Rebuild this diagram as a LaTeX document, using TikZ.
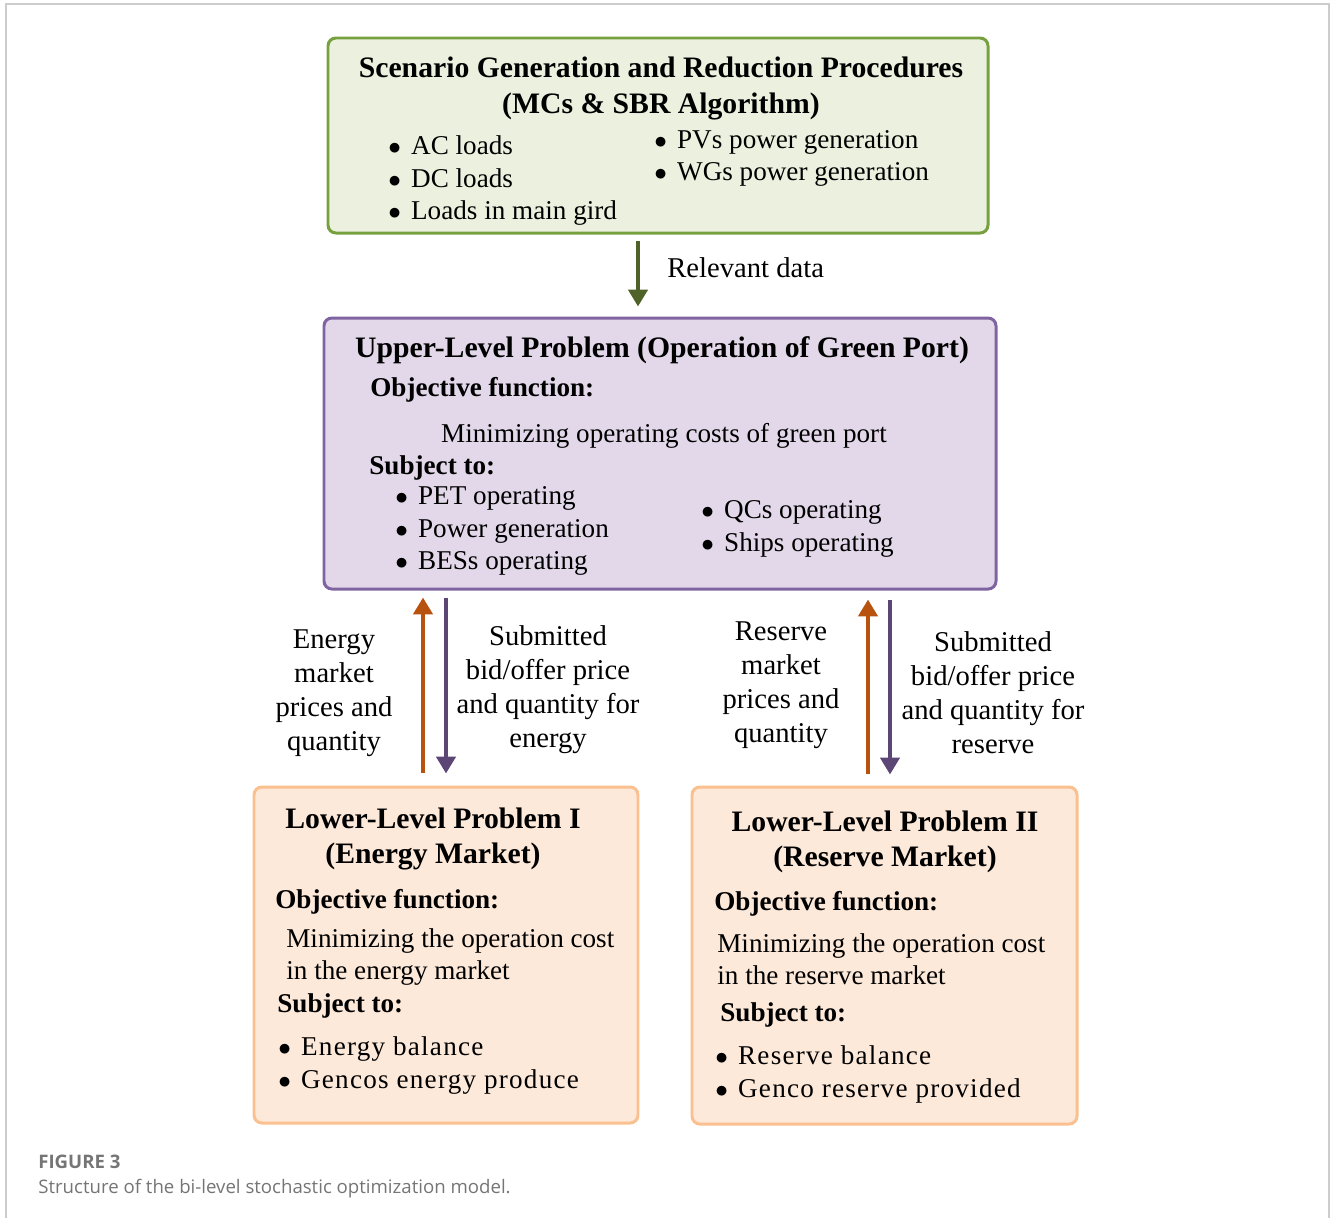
\documentclass[tikz,border=0pt]{standalone}
\usepackage{fontspec}
\setmainfont{Liberation Serif}
\newfontfamily\capfont{Open Sans}
\usetikzlibrary{positioning,arrows.meta,fit}
\definecolor{scenLine}{HTML}{77A03F}
\definecolor{scenFill}{HTML}{EBF1DE}
\definecolor{upLine}{HTML}{8064A2}
\definecolor{upFill}{HTML}{E2D8E9}
\definecolor{lowLine}{HTML}{FAC090}
\definecolor{lowFill}{HTML}{FDE9D9}
\definecolor{dataArrow}{HTML}{4F6228}
\definecolor{priceArrow}{HTML}{B8530F}
\definecolor{bidArrow}{HTML}{5B4675}
\definecolor{capGray}{HTML}{757575}
\newcommand{\bul}{\makebox[0.84em][l]{$\bullet$}}
\newcommand{\spaced}{\addfontfeature{LetterSpace=4.5}}

\begin{document}
\begin{tikzpicture}[x=0.02cm, y=-0.02cm,
    txt/.style={font=\fontsize{15.45}{18.6}\selectfont, inner sep=0pt, yshift=-0.08cm},
    head/.style={inner sep=0pt, align=center, yshift=-0.08cm, font=\fontsize{16.9}{20}\selectfont\bfseries},
    sub/.style={inner sep=0pt, anchor=mid west, yshift=-0.08cm, font=\fontsize{15.45}{18.6}\selectfont\bfseries},
    item/.style={txt, anchor=mid west},
    lbl/.style={txt, align=center, font=\fontsize{16.3}{19.3}\selectfont},
    box/.style={draw, rounded corners=4.5pt, line width=1.7pt, inner sep=0pt},
    scenbox/.style={box, draw=scenLine, fill=scenFill},
    upbox/.style={box, draw=upLine, fill=upFill},
    lowbox/.style={box, draw=lowLine, fill=lowFill},
    arr/.style={line width=2.4pt, -{Triangle[length=9.6pt,width=10.8pt]}}]
  \useasboundingbox (0,0) rectangle (1330,1218);
  \draw[gray!40, line width=0.7pt] (6,1218) |- (1329,4) -- (1329,1218);

  % scenario box
  \node[scenbox, fit={(328,38) (988,233)}] (scen) {};
  \node[head] (scenT) at (661,84.5) {Scenario Generation and Reduction Procedures\\(MCs \& SBR Algorithm)};
  \node[item] (ac) at (388,146) {\bul AC loads};
  \node[item] (dc) at (388,179) {\bul DC loads};
  \node[item] (mg) at (388,211) {\bul Loads in main gird};
  \node[item] (pv) at (654,140) {\bul PVs power generation};
  \node[item] (wg) at (654,172) {\bul WGs power generation};

  % upper level
  \node[upbox, fit={(324,318) (996,589)}] (upper) {};
  \node[head] (upT) at (662,346) {Upper-Level Problem (Operation of Green Port)};
  \node[sub] (upObj) at (370,388) {Objective function:};
  \node[txt] (upMin) at (664,432) {Minimizing operating costs of green port};
  \node[sub] (upSub) at (369,466) {Subject to:};
  \node[item] (pet) at (395,496) {\bul PET operating};
  \node[item] (pg) at (395,529) {\bul Power generation};
  \node[item] (bes) at (395,561) {\bul BESs operating};
  \node[item] (qc) at (701,510) {\bul QCs operating};
  \node[item] (ship) at (701,543) {\bul Ships operating};

  % lower level I
  \node[lowbox, fit={(254,787) (638,1123)}] (lowA) {};
  \node[head] (lowAT) at (433,835) {Lower-Level Problem I\\(Energy Market)};
  \node[sub] (lowAObj) at (275,900) {Objective function:};
  \node[item] (lowAMin) at (286,939) {Minimizing the operation cost};
  \node[item] (lowAMin2) at (286,971) {in the energy market};
  \node[sub] (lowASub) at (277,1004) {Subject to:};
  \node[item] (eb) at (278,1047) {\bul\spaced Energy balance};
  \node[item] (ge) at (278,1080) {\bul\spaced Gencos energy produce};

  % lower level II
  \node[lowbox, fit={(692,787) (1077,1124)}] (lowB) {};
  \node[head] (lowBT) at (885,837.5) {Lower-Level Problem II\\(Reserve Market)};
  \node[sub] (lowBObj) at (714,902) {Objective function:};
  \node[item] (lowBMin) at (717,944) {Minimizing the operation cost};
  \node[item] (lowBMin2) at (717,976) {in the reserve market};
  \node[sub] (lowBSub) at (720,1013) {Subject to:};
  \node[item] (rb) at (715,1056) {\bul\spaced Reserve balance};
  \node[item] (gr) at (715,1089) {\bul\spaced Genco reserve provided};

  % connectors
  \coordinate (dataX) at (638,0);
  \coordinate (ePrice) at (423,0);
  \coordinate (eBid) at (446,0);
  \coordinate (rPrice) at (868,0);
  \coordinate (rBid) at (890,0);
  \draw[arr, dataArrow, shorten <=0.14cm, shorten >=0.2cm] (scen.south -| dataX) -- (upper.north -| dataX);
  \node[lbl, anchor=mid west] (relData) at (667,269) {Relevant data};
  \draw[arr, priceArrow, shorten <=0.26cm, shorten >=0.14cm] (lowA.north -| ePrice) -- (upper.south -| ePrice);
  \draw[arr, bidArrow, shorten <=0.14cm, shorten >=0.24cm] (upper.south -| eBid) -- (lowA.north -| eBid);
  \draw[arr, priceArrow, shorten <=0.24cm, shorten >=0.18cm] (lowB.north -| rPrice) -- (upper.south -| rPrice);
  \draw[arr, bidArrow, shorten <=0.18cm, shorten >=0.22cm] (upper.south -| rBid) -- (lowB.north -| rBid);
  \node[lbl] (ePriceL) at (334,689) {Energy\\market\\prices and\\quantity};
  \node[lbl] (eBidL) at (548,686) {Submitted\\bid/offer price\\and quantity for\\energy};
  \node[lbl] (rPriceL) at (781,681.5) {Reserve\\market\\prices and\\quantity};
  \node[lbl] (rBidL) at (993,688.5) {Submitted\\bid/offer price\\and quantity for\\reserve};

  % caption
  \node[inner sep=0pt, anchor=mid west, yshift=-0.06cm, font=\capfont\fontsize{10.6}{12}\selectfont\bfseries, text=capGray] (figNo) at (38,1161) {FIGURE 3};
  \node[inner sep=0pt, anchor=mid west, yshift=-0.06cm, font=\capfont\fontsize{10.6}{12}\selectfont, text=capGray] (figCap) at (38,1186) {Structure of the bi-level stochastic optimization model.};
\end{tikzpicture}
\end{document}
